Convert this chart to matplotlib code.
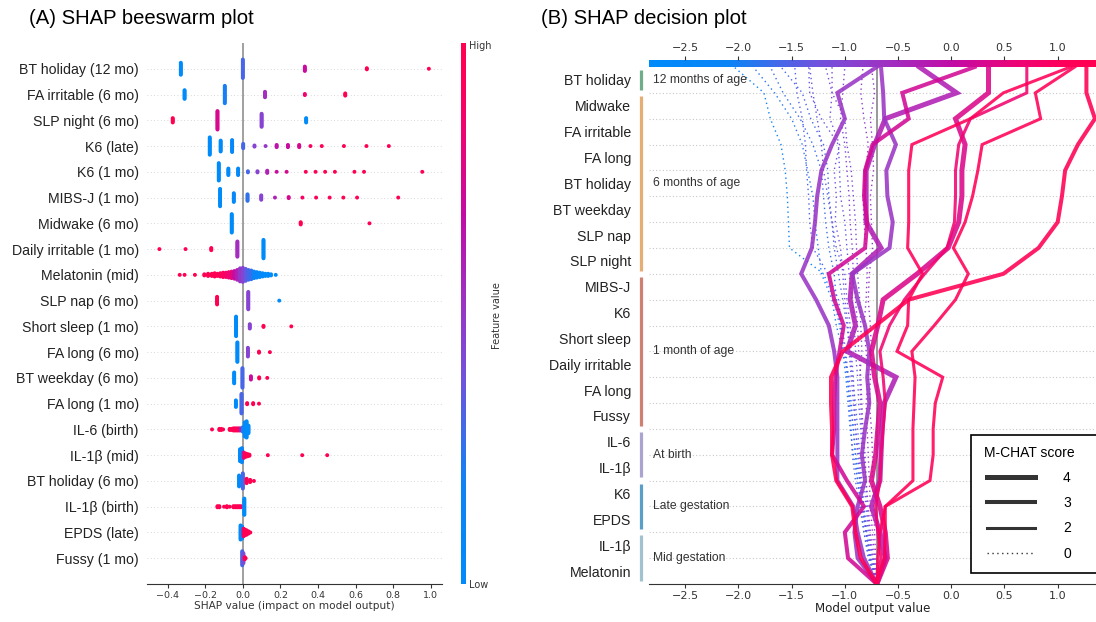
import numpy as np
import matplotlib
matplotlib.use("Agg")
import matplotlib.pyplot as plt
import matplotlib.transforms as mtransforms
from matplotlib.colors import LinearSegmentedColormap
from matplotlib.lines import Line2D
from matplotlib.patches import Rectangle

plt.rcParams["font.family"] = "DejaVu Sans"
LABEL_FONT = ["Liberation Sans", "DejaVu Sans"]

# ---------------- (A) beeswarm data ----------------
bee_features = [
    "BT holiday (12 mo)", "FA irritable (6 mo)", "SLP night (6 mo)", "K6 (late)",
    "K6 (1 mo)", "MIBS-J (1 mo)", "Midwake (6 mo)", "Daily irritable (1 mo)",
    "Melatonin (mid)", "SLP nap (6 mo)", "Short sleep (1 mo)", "FA long (6 mo)",
    "BT weekday (6 mo)", "FA long (1 mo)", "IL-6 (birth)", "IL-1β (mid)",
    "BT holiday (6 mo)", "IL-1β (birth)", "EPDS (late)", "Fussy (1 mo)",
]
# SHAP value of each cluster of children
bee_shap = [
    [-0.33, 0.0, 0.33, 0.66, 0.99],
    [-0.31, -0.096, 0.118, 0.33, 0.545],
    [-0.373, -0.135, 0.10, 0.337],
    [-0.176, -0.118, -0.057, 0.002, 0.062, 0.121, 0.18, 0.24, 0.30, 0.36, 0.42, 0.538, 0.658, 0.777],
    [-0.128, -0.077, -0.025, 0.027, 0.078, 0.13, 0.18, 0.233, 0.335, 0.387, 0.438, 0.49, 0.594, 0.645, 0.955],
    [-0.121, -0.048, 0.025, 0.098, 0.171, 0.244, 0.317, 0.39, 0.462, 0.535, 0.608, 0.827],
    [-0.059, 0.308, 0.674],
    [-0.444, -0.305, -0.168, -0.029, 0.11],
    [-0.336, -0.31, -0.255, -0.205, -0.185, -0.165, -0.15, -0.135, -0.12, -0.105, -0.09, -0.075,
     -0.06, -0.045, -0.03, -0.015, 0.0, 0.015, 0.03, 0.045, 0.06, 0.075, 0.09, 0.105, 0.12,
     0.135, 0.15, 0.175],
    [-0.137, 0.029, 0.194],
    [-0.036, 0.037, 0.11, 0.258],
    [-0.029, 0.027, 0.086, 0.144],
    [-0.046, -0.002, 0.043, 0.087, 0.13],
    [-0.037, -0.007, 0.023, 0.055, 0.086],
    [-0.164, -0.125, -0.115, -0.105, -0.07, -0.06, -0.05, -0.04, -0.03, -0.02, -0.01, 0.0, 0.01, 0.02, 0.03],
    [-0.015, -0.005, 0.005, 0.015, 0.025, 0.035, 0.133, 0.316, 0.449],
    [-0.02, 0.0, 0.02, 0.039, 0.059],
    [-0.135, -0.125, -0.1, -0.085, -0.07, -0.05, -0.04, -0.03, -0.02, -0.01, 0.008],
    [-0.012, -0.004, 0.004, 0.012, 0.02, 0.03, 0.04],
    [-0.003, 0.003, 0.01, 0.015],
]
# number of children sharing that value
bee_count = [
    [12, 18, 5, 2, 1],
    [9, 17, 6, 2, 3],
    [5, 18, 13, 5],
    [17, 11, 12, 5, 2, 1, 3, 3, 3, 1, 1, 1, 1, 1],
    [17, 7, 7, 2, 2, 3, 1, 1, 1, 1, 1, 1, 1, 1, 1],
    [17, 9, 7, 5, 1, 2, 1, 1, 1, 1, 1, 1],
    [18, 3, 1],
    [1, 1, 3, 15, 18],
    [1, 1, 1, 2, 3, 3, 4, 3, 4, 5, 5, 6, 7, 8, 10, 13, 14, 12, 10, 9, 7, 6, 5, 4, 3, 3, 2, 1],
    [8, 17, 1],
    [19, 5, 2, 1],
    [19, 9, 2, 1],
    [11, 19, 4, 2, 1],
    [7, 19, 2, 2, 1],
    [1, 2, 2, 1, 2, 2, 3, 3, 3, 3, 3, 5, 14, 16, 8],
    [12, 14, 6, 4, 3, 2, 1, 1, 1],
    [11, 15, 5, 3, 1],
    [2, 2, 1, 2, 1, 2, 2, 2, 2, 2, 16],
    [14, 12, 8, 6, 5, 3, 1],
    [14, 10, 3, 1],
]
# feature value of the cluster, 0 = low, 1 = high
bee_feat = [
    [0.0, 0.3, 0.7, 1.0, 1.0],
    [0.0, 0.2, 0.55, 0.85, 1.0],
    [1.0, 0.75, 0.45, 0.0],
    [0.0, 0.02, 0.05, 0.3, 0.45, 0.5, 0.65, 0.7, 0.75, 0.9, 0.95, 1, 1, 1],
    [0.0, 0.02, 0.05, 0.3, 0.45, 0.6, 0.7, 0.75, 0.95, 0.95, 1, 1, 1, 1, 1],
    [0.0, 0.05, 0.25, 0.45, 0.6, 0.75, 0.9, 0.95, 1, 1, 1, 1],
    [0.0, 1.0, 1.0],
    [1, 1, 1, 0.55, 0.0],
    [1, 1, 1, 1, 1, 1, 0.98, 0.95, 0.95, 0.9, 0.88, 0.85, 0.8, 0.7, 0.6, 0.5, 0.45, 0.35,
     0.3, 0.25, 0.15, 0.1, 0.05, 0.03, 0.02, 0.0, 0.0, 0.0],
    [1.0, 0.45, 0.0],
    [0.0, 0.45, 1, 1],
    [0.0, 0.45, 1, 1],
    [0.0, 0.3, 0.7, 1, 1],
    [0.0, 0.3, 1, 1, 1],
    [1, 1, 1, 1, 1, 1, 1, 1, 0.95, 0.9, 0.6, 0.2, 0.05, 0.0, 0.0],
    [0.0, 0.1, 0.8, 1, 1, 1, 1, 1, 1],
    [0.0, 0.3, 1, 1, 1],
    [1, 1, 1, 1, 1, 1, 1, 1, 1, 0.9, 0.0],
    [0.0, 0.05, 0.9, 1, 1, 1, 1],
    [0.3, 0.4, 1, 1],
]

# ---------------- (B) decision plot data ----------------
dec_features = ["BT holiday", "Midwake", "FA irritable", "FA long", "BT holiday", "BT weekday",
                "SLP nap", "SLP night", "MIBS-J", "K6", "Short sleep", "Daily irritable",
                "FA long", "Fussy", "IL-6", "IL-1β", "K6", "EPDS", "IL-1β", "Melatonin"]
group_names = ["12 months of age", "6 months of age", "1 month of age",
               "At birth", "Late gestation", "Mid gestation"]
group_first = [0, 1, 8, 14, 16, 18]
group_last = [0, 7, 13, 15, 17, 19]
group_colors = ["#70ae8a", "#e6ae74", "#cf8073", "#aaa4cf", "#5b9ec9", "#a2c2cf"]
base_value = -0.70
# cumulative model output, from the base value (bottom) up to the final output (top)
solid_paths = [
    [-0.70, -0.82, -0.88, -0.92, -1.07, -1.07, -1.07, -1.07, -1.07, -1.10, -1.15,
     -1.27, -1.41, -1.31, -1.28, -1.26, -1.22, -1.12, -1.00, -1.07, -0.70],
    [-0.70, -0.62, -0.67, -0.75, -0.67, -0.66, -0.65, -0.63, -0.52, -0.98, -0.90,
     -0.95, -0.93, -0.66, -0.80, -0.80, -0.80, -0.72, -0.62, 0.05, -0.30],
    [-0.70, -0.88, -0.91, -0.88, -0.81, -0.84, -0.81, -0.77, -0.79, -0.77, -0.81,
     -0.88, -0.93, -0.58, -0.55, -0.60, -0.61, -0.52, -0.63, -0.64, -0.66],
    [-0.70, -0.97, -1.00, -0.82, -0.98, -1.12, -1.10, -1.10, -1.09, -1.05, -1.01,
     -1.10, -1.15, -0.81, -0.79, -0.82, -0.81, -0.74, -0.40, -0.46, 0.22],
    [-0.70, -0.60, -0.62, -0.67, -0.75, -0.71, -0.69, -0.67, -0.72, -0.75, -0.69,
     -0.64, -0.32, -0.03, 0.07, 0.10, 0.10, 0.13, 0.04, 0.35, 0.35],
    [-0.70, -0.66, -0.69, -0.71, -0.67, -0.66, -0.64, -0.62, -0.64, -0.67, -0.58,
     -0.44, -0.25, -0.04, 0.03, 0.04, 0.04, 0.07, 0.18, 0.71, 0.71],
    [-0.70, -0.69, -0.67, -0.62, -0.20, -0.17, -0.17, -0.15, -0.08, -0.51, -0.41,
     -0.40, -0.27, -0.41, -0.40, -0.40, -0.40, -0.37, 0.18, 0.49, 1.12],
    [-0.70, -0.63, -0.62, -0.62, -0.36, -0.36, -0.36, -0.35, -0.34, -0.37, -0.16,
     0.04, 0.16, 0.02, 0.13, 0.20, 0.25, 0.29, 0.84, 0.79, 1.16],
    [-0.70, -0.85, -0.90, -0.93, -1.08, -1.12, -1.12, -1.13, -1.13, -1.02, -0.71,
     -0.40, 0.49, 0.82, 1.00, 1.04, 1.07, 1.19, 1.35, 1.27, 1.27],
]
solid_mchat = [3, 4, 3, 3, 4, 2, 2, 2, 3]
dotted_paths = [
    [-0.70, -0.76, -0.80, -0.82, -0.86, -0.90, -0.92, -0.95, -0.98, -1.00, -1.05,
     -1.10, -1.20, -1.52, -1.53, -1.54, -1.56, -1.60, -1.70, -1.76, -2.04],
    [-0.70, -0.78, -0.82, -0.85, -0.88, -0.92, -0.95, -0.97, -0.99, -1.02, -1.08,
     -1.12, -1.22, -1.25, -1.28, -1.30, -1.35, -1.40, -1.50, -1.66, -1.86],
    [-0.70, -0.76, -0.80, -0.84, -0.88, -0.90, -0.92, -0.94, -0.96, -1.02, -1.04,
     -1.08, -1.10, -1.15, -1.18, -1.20, -1.22, -1.30, -1.42, -1.58, -1.70],
    [-0.70, -0.75, -0.79, -0.82, -0.84, -0.86, -0.88, -0.90, -0.93, -0.95, -0.98,
     -1.02, -1.06, -1.10, -1.12, -1.15, -1.16, -1.20, -1.32, -1.40, -1.60],
    [-0.70, -0.74, -0.78, -0.80, -0.82, -0.84, -0.85, -0.87, -0.88, -0.90, -0.91,
     -0.93, -0.96, -0.98, -1.00, -1.04, -1.05, -1.06, -1.22, -1.33, -1.34],
    [-0.70, -0.76, -0.80, -0.83, -0.85, -0.87, -0.90, -0.92, -0.94, -0.96, -0.97,
     -1.00, -1.02, -1.04, -1.09, -1.08, -1.10, -1.05, -1.14, -1.12, -1.18],
    [-0.70, -0.74, -0.77, -0.79, -0.80, -0.82, -0.84, -0.85, -0.86, -0.84, -0.85,
     -0.86, -0.88, -0.89, -0.90, -0.92, -0.94, -0.98, -1.00, -1.12, -1.12],
    [-0.70, -0.77, -0.80, -0.84, -0.86, -0.88, -0.90, -0.91, -0.92, -0.94, -0.95,
     -0.98, -1.00, -1.08, -1.12, -1.16, -1.20, -1.22, -1.26, -1.30, -1.33],
    [-0.70, -0.72, -0.74, -0.76, -0.77, -0.78, -0.79, -0.80, -0.78, -0.80, -0.82,
     -0.80, -0.79, -0.80, -0.82, -0.83, -0.80, -0.78, -0.82, -0.85, -0.83],
    [-0.70, -0.73, -0.76, -0.78, -0.80, -0.81, -0.83, -0.84, -0.85, -0.87, -0.88,
     -0.90, -0.92, -0.93, -0.95, -0.96, -0.98, -1.00, -1.04, -1.02, -1.00],
    [-0.70, -0.77, -0.82, -0.86, -0.90, -0.93, -0.94, -0.96, -0.97, -0.99, -1.03,
     -1.06, -1.16, -1.30, -1.33, -1.34, -1.36, -1.37, -1.40, -1.45, -1.47],
    [-0.70, -0.71, -0.72, -0.73, -0.74, -0.74, -0.75, -0.77, -0.76, -0.75, -0.76,
     -0.78, -0.77, -0.74, -0.75, -0.76, -0.73, -0.74, -0.76, -0.72, -0.75],
]
legend_scores = [4, 3, 2, 0]

# ---------------- styling ----------------
cmap = LinearSegmentedColormap.from_list("shap_rb", [
    (0.0, "#008bfb"), (0.18, "#0d84f6"), (0.38, "#7152de"), (0.52, "#9c34c4"),
    (0.68, "#c20ca6"), (0.82, "#ec0577"), (0.93, "#ff005a"), (1.0, "#ff0052")])
lw_by_score = {4: 3.6, 3: 2.9, 2: 2.2, 0: 1.0}
W, H = 1096, 622
fig = plt.figure(figsize=(W / 100, H / 100), dpi=100)

# ================= (A) beeswarm =================
ax1 = fig.add_axes([147 / W, (H - 584) / H, (442 - 147) / W, (584 - 43) / H])
n_rows = len(bee_features)
for i in range(n_rows):
    y0 = n_rows - 1 - i
    ax1.axhline(y0, color="#cccccc", lw=0.6, dashes=(1, 3), zorder=0)
    px, py, pc = [], [], []
    for x, n, c in zip(bee_shap[i], bee_count[i], bee_feat[i]):
        offs = (np.arange(n) - (n - 1) / 2) * 0.042
        px += [x] * n
        py += list(y0 + offs)
        pc += [c] * n
    ax1.scatter(px, py, c=cmap(np.array(pc)), s=8, linewidths=0, zorder=3)
ax1.axvline(0, color="#999999", lw=1.3, zorder=1)
ax1.set_xlim(-0.51, 1.06)
ax1.set_ylim(-1, 20)
ax1.set_xticks([-0.4, -0.2, 0.0, 0.2, 0.4, 0.6, 0.8, 1.0])
ax1.set_yticks(range(n_rows))
ax1.set_yticklabels(bee_features[::-1], fontsize=10.2, family=LABEL_FONT, color="#222222")
ax1.tick_params(axis="y", length=0, pad=6)
ax1.tick_params(axis="x", labelsize=6.8, colors="#333333", length=3, width=0.8, pad=2)
for s in ["top", "left", "right"]:
    ax1.spines[s].set_visible(False)
ax1.spines["bottom"].set_color("#333333")
ax1.spines["bottom"].set_linewidth(0.8)
ax1.set_xlabel("SHAP value (impact on model output)", fontsize=7.6, color="#333333", labelpad=1)

cax1 = fig.add_axes([461 / W, (H - 584) / H, 5 / W, (584 - 43) / H])
cax1.imshow(np.linspace(0, 1, 256)[:, None], aspect="auto", cmap=cmap, origin="lower")
cax1.axis("off")
fig.text(469 / W, 1 - 46 / H, "High", fontsize=7, color="#333333", va="center")
fig.text(469 / W, 1 - 585 / H, "Low", fontsize=7, color="#333333", va="center")
fig.text(497 / W, 1 - 316 / H, "Feature value", fontsize=7, color="#333333",
         rotation=90, va="center", ha="center")

fig.text(29 / W, 1 - 19 / H, "(A) SHAP beeswarm plot", fontsize=14.6, family=LABEL_FONT,
         va="center", ha="left")
fig.text(541 / W, 1 - 19 / H, "(B) SHAP decision plot", fontsize=14.6, family=LABEL_FONT,
         va="center", ha="left")

# ================= (B) decision plot =================
xmin, xmax = -2.84, 1.36
ax2 = fig.add_axes([649 / W, (H - 584) / H, (W - 649) / W, (584 - 67) / H])
ax2.set_xlim(xmin, xmax)
ax2.set_ylim(0, len(dec_features))
for k in range(1, len(dec_features)):
    ax2.axhline(k, color="#c8c8c8", lw=0.8, ls=(0, (1, 2)), zorder=0)
ax2.axvline(base_value, color="#999999", lw=1.4, zorder=1)

levels = np.arange(len(dec_features) + 1)
norm = plt.Normalize(xmin, xmax)
for path in dotted_paths:
    ax2.plot(path, levels, color=cmap(norm(path[-1])), lw=lw_by_score[0],
             ls=(0, (1, 2.5)), zorder=2)
for path, sc in zip(solid_paths, solid_mchat):
    ax2.plot(path, levels, color=cmap(norm(path[-1])), lw=lw_by_score[sc], alpha=0.88,
             solid_joinstyle="miter", zorder=3)

ax2.set_yticks(np.arange(len(dec_features)) + 0.5)
ax2.set_yticklabels(dec_features[::-1], fontsize=10.2, family=LABEL_FONT, color="#222222")
ax2.tick_params(axis="y", length=0, pad=13)
ax2.set_xticks([-2.5, -2.0, -1.5, -1.0, -0.5, 0.0, 0.5, 1.0])
ax2.tick_params(axis="x", labelsize=8, colors="#333333", length=3, width=0.8, pad=2)
for s in ["top", "left", "right"]:
    ax2.spines[s].set_visible(False)
ax2.spines["bottom"].set_color("#333333")
ax2.spines["bottom"].set_linewidth(0.8)
ax2.set_xlabel("Model output value", fontsize=8.6, color="#222222", labelpad=1)

# group bars and labels
blend = mtransforms.blended_transform_factory(ax2.transAxes, ax2.transData)
nf = len(dec_features)
for name, a, b, col in zip(group_names, group_first, group_last, group_colors):
    ytop = nf - a - 0.12
    ybot = nf - b - 1 + 0.12
    ax2.add_line(Line2D([-0.0175, -0.0175], [ybot, ytop], color=col, lw=2.3,
                        transform=blend, clip_on=False, solid_capstyle="butt"))
    ax2.text(0.008, nf - (a + b + 1) / 2, name, transform=blend, fontsize=8.7,
             family=LABEL_FONT, color="#333333", va="center", ha="left", zorder=4)

# colour strip on top
cax2 = fig.add_axes([649 / W, (H - 67) / H, (W - 649) / W, 7 / H])
cax2.imshow(np.linspace(0, 1, 256)[None, :], aspect="auto", cmap=cmap,
            extent=(xmin, xmax, 0, 1))
cax2.set_xlim(xmin, xmax)
cax2.set_yticks([])
cax2.set_xticks([-2.5, -2.0, -1.5, -1.0, -0.5, 0.0, 0.5, 1.0])
cax2.xaxis.set_ticks_position("top")
cax2.tick_params(axis="x", labelsize=8, colors="#333333", length=3, width=0.8, pad=2)
for s in cax2.spines.values():
    s.set_visible(False)

# legend (its frame runs past the right edge of the figure, as in the original)
handles = [Line2D([], [], color="#333333", lw=lw_by_score[s],
                  ls=(0, (1, 2.5)) if s == 0 else "-") for s in legend_scores]
leg = ax2.legend(handles, [str(s) for s in legend_scores], title="M-CHAT score",
                 loc="lower left", bbox_to_anchor=(971 / W, (H - 573) / H),
                 bbox_transform=fig.transFigure, borderaxespad=0, frameon=False,
                 handlelength=3.5, handletextpad=2.0, labelspacing=0.8, borderpad=0.9,
                 prop={"family": LABEL_FONT, "size": 10},
                 title_fontproperties={"family": LABEL_FONT, "size": 10})
leg.set_zorder(10)
ax2.add_patch(Rectangle((971 / W, (H - 573) / H), 140 / W, 138 / H,
                        transform=fig.transFigure, facecolor="white",
                        edgecolor="black", lw=1.2, zorder=9, clip_on=False))

fig.savefig("out.png", dpi=100)
